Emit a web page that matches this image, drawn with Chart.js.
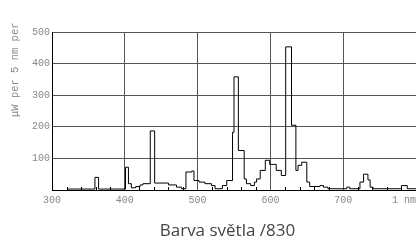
<!DOCTYPE html>
<html>
<head>
<meta charset="utf-8">
<script src="https://cdn.jsdelivr.net/npm/chart.js@4"></script>
<style>
  html, body { margin: 0; padding: 0; background: #fff; }
  #wrap { position: relative; width: 416px; height: 240px; overflow: hidden; }
  #caption {
    position: absolute; left: 0; top: 220px; width: 455px;
    text-align: center; font: 17px/20px "Open Sans", sans-serif; color: #444;
  }
</style>
</head>
<body>
<div id="wrap">
  <canvas id="chart" width="416" height="240"></canvas>
  <div id="caption">Barva světla /830</div>
</div>
<script>
// spectrum: step starts (nm) and level (μW per 5 nm)
const wavelengths = [322, 359, 364, 401, 405, 409, 415, 421, 425, 435, 441, 460, 471, 478,
  484, 492, 495, 502, 510, 519, 524, 534, 540, 548, 550, 556, 564, 567, 573, 578, 581, 586,
  593, 599, 608, 615, 621, 629, 635, 638, 643, 650, 654, 668, 673, 679, 705, 709, 723, 728,
  734, 737, 741, 780, 788, 800];
const power = [3, 40, 3, 72, 20, 7, 11, 16, 20, 187, 22, 16, 9, 4,
  57, 60, 30, 25, 20, 14, 4, 14, 30, 183, 358, 125, 35, 20, 14, 25, 35, 62,
  94, 81, 62, 46, 453, 205, 62, 78, 88, 25, 11, 14, 9, 4, 9, 4, 25, 50,
  32, 9, 4, 14, 4, 4];

const xTicks = [300, 400, 500, 600, 700, 800];
const xTickLabels = ['300', '400', '500', '600', '700', '1 nm'];
const yTicks = [100, 200, 300, 400, 500];
const yTitle = 'μW per 5 nm per';

const monoFont = '10px "Liberation Mono", monospace';

// popisky os, vedlejsi znacky a svisly nadpis
const axisDecor = {
  id: 'axisDecor',
  afterDraw(chart) {
    const { ctx, chartArea, scales: { x, y } } = chart;
    ctx.save();

    // minor ticks every 20 nm
    ctx.strokeStyle = '#000';
    ctx.lineWidth = 1;
    for (let v = 320; v < 800; v += 20) {
      if (v % 100 === 0) continue;
      const px = Math.round(x.getPixelForValue(v)) + 0.5;
      ctx.beginPath();
      ctx.moveTo(px, chartArea.bottom);
      ctx.lineTo(px, chartArea.bottom - 3);
      ctx.stroke();
    }

    ctx.font = monoFont;
    ctx.fillStyle = '#888';

    // y labels
    ctx.textAlign = 'right';
    ctx.textBaseline = 'middle';
    yTicks.forEach(v => {
      ctx.fillText(String(v), chartArea.left - 2, y.getPixelForValue(v));
    });

    // x labels
    ctx.textBaseline = 'middle';
    xTicks.forEach((v, i) => {
      const last = i === xTicks.length - 1;
      ctx.textAlign = last ? 'right' : 'center';
      const px = last ? chart.width : x.getPixelForValue(v);
      ctx.fillText(xTickLabels[i], px, chartArea.bottom + 10);
    });

    // y title, rotated
    ctx.font = '10.5px "Liberation Mono", monospace';
    ctx.translate(15, chartArea.top + 85);
    ctx.rotate(-Math.PI / 2);
    ctx.textAlign = 'left';
    ctx.fillText(yTitle, 0, 0);

    ctx.restore();
  }
};

const ctx = document.getElementById('chart').getContext('2d');
new Chart(ctx, {
  type: 'line',
  data: {
    datasets: [{
      data: wavelengths.map((w, i) => ({ x: w, y: power[i] })),
      stepped: true,
      borderColor: '#000',
      borderWidth: 1,
      pointRadius: 0,
      fill: false
    }]
  },
  options: {
    responsive: false,
    animation: false,
    layout: { padding: { left: 52, right: 0, top: 32, bottom: 50 } },
    plugins: {
      legend: { display: false },
      tooltip: { enabled: false }
    },
    scales: {
      x: {
        type: 'linear',
        min: 300,
        max: 800,
        ticks: { display: false, stepSize: 100 },
        grid: {
          drawTicks: false,
          color: c => (c.tick && c.tick.value === 800 ? 'rgba(0,0,0,0)' : '#555')
        },
        border: { color: '#000' }
      },
      y: {
        min: 0,
        max: 500,
        ticks: { display: false, stepSize: 100 },
        grid: { drawTicks: false, color: '#555' },
        border: { color: '#000' }
      }
    }
  },
  plugins: [axisDecor]
});
</script>
</body>
</html>
